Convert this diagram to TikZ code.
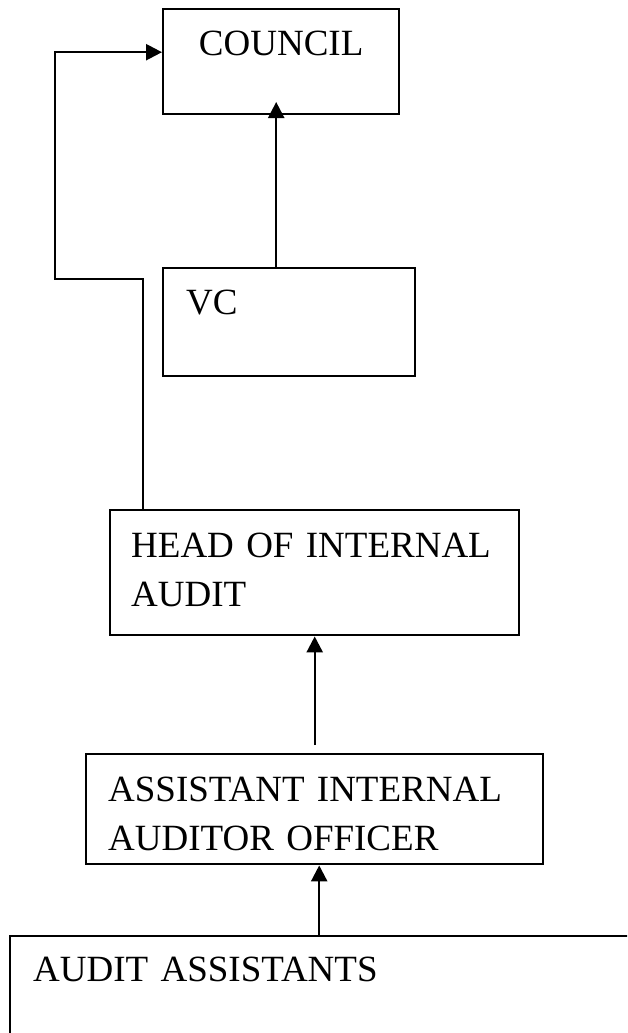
\documentclass[tikz,border=0pt]{standalone}
\usepackage{fontspec}
\setmainfont{Liberation Serif}
\usepackage{tikz}
\usetikzlibrary{arrows.meta}

\tikzset{
  post/.style={draw, line width=1.2pt, anchor=north west, inner ysep=0pt,
    text height=23pt, font=\fontsize{18.5}{24.5}\selectfont},
  flow/.style={line width=1.2pt, -{Triangle[length=8pt,width=8pt]}}
}

\begin{document}
\begin{tikzpicture}[x=0.5pt, y=-0.5pt]
        \useasboundingbox (0,0) rectangle (627,1033);
        \clip (0,0) rectangle (627,1033);
        \node[post, inner xsep=0pt, text width=118pt, align=center, text depth=29.5pt] (council) at (162,8) {COUNCIL};
        \node[post, inner xsep=11.5pt, text width=103pt, align=left, text depth=31pt] (vc) at (162,267) {VC};
        \node[post, inner xsep=10.5pt, text width=183.5pt, align=left, text height=23.5pt, text depth=39pt] (head) at (109,509) {HEAD OF INTERNAL\\AUDIT};
        \node[post, inner xsep=11pt, text width=206.5pt, align=left, text height=23.5pt, text depth=31.5pt] (asst) at (85,753) {ASSISTANT INTERNAL\\AUDITOR OFFICER};
        \node[post, inner xsep=11.5pt, text width=292.5pt, align=left, text height=22.5pt, text depth=32.5pt] (staff) at (9,935) {AUDIT ASSISTANTS};
        \draw[flow] ([xshift=-6.5pt]vc.north) -- ++(0,-165);
        \draw[flow] ([xshift=17pt]head.north west) -- ++(0,-230) -- ++(-88,0) |- ([yshift=4.75pt]council.west);
        \draw[flow] ([yshift=4pt]asst.north) -- (head.south);
        \draw[flow] ([xshift=2.25pt]asst.south |- staff.north) -- ([xshift=2.25pt]asst.south);
    \end{tikzpicture}
\end{document}
